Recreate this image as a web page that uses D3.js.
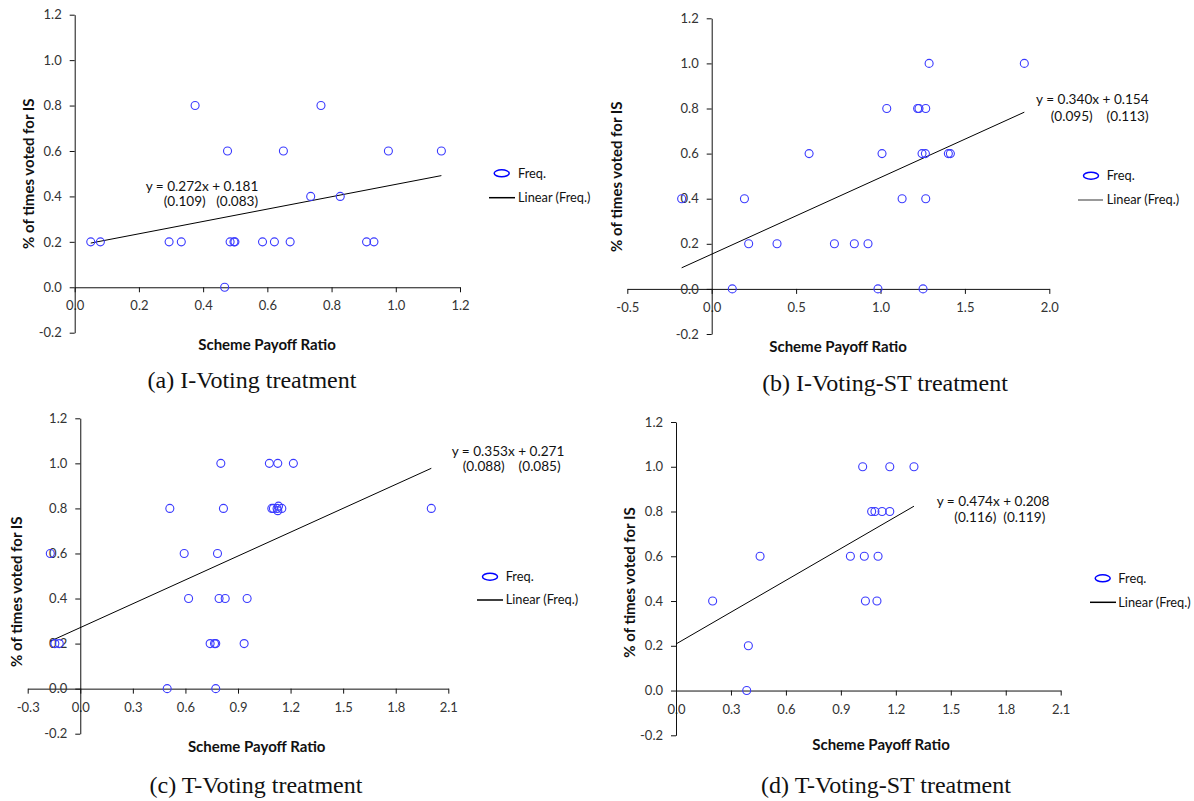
<!DOCTYPE html>
<html>
<head>
<meta charset="utf-8">
<script src="https://cdn.jsdelivr.net/npm/d3@7"></script>
<style>
  body { margin: 0; background: #fff; }
  svg text { font-family: Lato, "Open Sans", sans-serif; }
</style>
</head>
<body>
<svg id="chart" width="1194" height="801"></svg>
<script>
// ---- data ----
var aX = [0.050, 0.080, 0.294, 0.332, 0.375, 0.476, 0.467, 0.484, 0.496, 0.499, 0.585,
          0.622, 0.650, 0.671, 0.735, 0.767, 0.827, 0.909, 0.932, 0.977, 1.142];
var aY = [0.2, 0.2, 0.2, 0.2, 0.8, 0.6, 0.0, 0.2, 0.2, 0.2, 0.2,
          0.2, 0.6, 0.2, 0.4, 0.8, 0.4, 0.2, 0.2, 0.6, 0.6];

var bX = [-0.178, 0.194, 0.219, 0.387, 0.122, 0.577, 0.727, 0.845, 0.926, 0.985, 1.009, 1.037,
          1.128, 1.220, 1.228, 1.268, 1.246, 1.266, 1.268, 1.252, 1.288, 1.402, 1.414, 1.852];
var bY = [0.4, 0.4, 0.2, 0.2, 0.0, 0.6, 0.2, 0.2, 0.2, 0.0, 0.6, 0.8,
          0.4, 0.8, 0.8, 0.8, 0.6, 0.6, 0.4, 0.0, 1.0, 0.6, 0.6, 1.0];

var cX = [-0.171, -0.145, -0.120, 0.496, 0.511, 0.593, 0.618, 0.741, 0.766, 0.773, 0.773, 0.783,
          0.792, 0.802, 0.817, 0.827, 0.935, 0.952, 1.079, 1.127, 1.093, 1.102, 1.123, 1.127,
          1.131, 1.150, 1.216, 2.003];
var cY = [0.6, 0.2, 0.2, 0.0, 0.8, 0.6, 0.4, 0.2, 0.2, 0.2, 0.0, 0.6,
          0.4, 1.0, 0.8, 0.4, 0.2, 0.4, 1.0, 1.0, 0.8, 0.8, 0.8, 0.79,
          0.81, 0.8, 1.0, 0.8];

var dX = [0.200, 0.386, 0.395, 0.459, 0.952, 1.019, 1.028, 1.034, 1.068, 1.086, 1.103, 1.097,
          1.125, 1.167, 1.167, 1.299];
var dY = [0.4, 0.0, 0.2, 0.6, 0.6, 1.0, 0.6, 0.4, 0.8, 0.8, 0.6, 0.4,
          0.8, 1.0, 0.8, 1.0];

// fitted lines: slope, intercept, standard errors
var slopes     = [0.272, 0.340, 0.353, 0.474];
var intercepts = [0.181, 0.154, 0.271, 0.208];
var seSlope    = ["0.109", "0.095", "0.088", "0.116"];
var seInt      = ["0.083", "0.113", "0.085", "0.119"];
var trendFrom  = [null, null, null, 0];   // null = start at smallest x

var captions = ["(a) I-Voting treatment", "(b) I-Voting-ST treatment",
                "(c) T-Voting treatment", "(d) T-Voting-ST treatment"];

var yTicks  = [-0.2, 0.0, 0.2, 0.4, 0.6, 0.8, 1.0, 1.2];
var xTicksA = [0.0, 0.2, 0.4, 0.6, 0.8, 1.0, 1.2];
var xTicksB = [-0.5, 0.0, 0.5, 1.0, 1.5, 2.0];
var xTicksC = [-0.3, 0.0, 0.3, 0.6, 0.9, 1.2, 1.5, 1.8, 2.1];
var xTicksD = [0.0, 0.3, 0.6, 0.9, 1.2, 1.5, 1.8, 2.1];

// ---- layout ----
var panels = [
  { xs: aX, ys: aY, xt: xTicksA, xr: [74.7, 460], yr: [332.7, 14.7],
    eq: [145.7, 186, 163.7, 201.7, "   "], leg: [501.7, 173.3, 518, 489, 515, 197.7, "#000"],
    xl: [267, 345], yl: [29, 173.7], cap: [252, 388] },
  { xs: bX, ys: bY, xt: xTicksB, xr: [627.3, 1049.3], yr: [334, 18.3],
    eq: [1036, 99, 1050.7, 116, "    "], leg: [1091, 175.7, 1106.7, 1078, 1103, 200, "#777"],
    xl: [838, 347], yl: [616.7, 176.7], cap: [885, 391] },
  { xs: cX, ys: cY, xt: xTicksC, xr: [27.7, 448.3], yr: [733.7, 418.3],
    eq: [451.7, 451.7, 462.7, 466.7, "    "], leg: [490, 576.7, 505.7, 477, 503, 600, "#000"],
    xl: [256.7, 747], yl: [17, 591.7], cap: [256, 793] },
  { xs: dX, ys: dY, xt: xTicksD, xr: [676, 1060.7], yr: [735.3, 422],
    eq: [936.7, 501, 954.3, 517, "  "], leg: [1102.7, 578.3, 1118.3, 1090, 1116, 602.3, "#000"],
    xl: [881, 745], yl: [630, 582.5], cap: [886, 793] }
];

var svg = d3.select("#chart");
svg.append("rect").attr("width", 1194).attr("height", 801).attr("fill", "#fff");

var loc = d3.formatLocale({decimal: ".", thousands: ",", grouping: [3], currency: ["", ""], minus: "-"});
var f1 = loc.format(".1f");
var f3 = loc.format(".3f");

panels.forEach(function(p, i) {
  var g = svg.append("g");
  var x = d3.scaleLinear().domain([p.xt[0], p.xt[p.xt.length - 1]]).range(p.xr);
  var y = d3.scaleLinear().domain([-0.2, 1.2]).range(p.yr);

  // axes cross at zero
  var xa = g.append("g")
    .attr("transform", "translate(0," + y(0) + ")")
    .call(d3.axisBottom(x).tickValues(p.xt).tickFormat(f1).tickSize(5).tickSizeOuter(0).tickPadding(9));
  var ya = g.append("g")
    .attr("transform", "translate(" + x(0) + ",0)")
    .call(d3.axisLeft(y).tickValues(yTicks).tickFormat(f1).tickSize(5).tickSizeOuter(0).tickPadding(8));
  [xa, ya].forEach(function(a) {
    a.select(".domain").attr("stroke", "#111");
    a.selectAll(".tick line").attr("stroke", "#111");
    a.selectAll(".tick text").attr("fill", "#333").style("font-size", "13px").style("font-family", "Lato, sans-serif");
  });

  // trend line
  var x0 = trendFrom[i] === null ? d3.min(p.xs) : trendFrom[i];
  var x1 = d3.max(p.xs);
  var line = d3.line().x(function(d) { return x(d); })
    .y(function(d) { return y(slopes[i] * d + intercepts[i]); });
  g.append("path").datum([x0, x1]).attr("d", line)
    .attr("fill", "none").attr("stroke", "#000").attr("stroke-width", 1);

  // points
  g.selectAll("circle.pt").data(p.xs).enter().append("circle")
    .attr("class", "pt")
    .attr("cx", function(d) { return x(d); })
    .attr("cy", function(d, j) { return y(p.ys[j]); })
    .attr("r", 4)
    .attr("fill", "none")
    .attr("stroke", "#3a3aff")
    .attr("stroke-width", 1.1);

  // equation
  g.append("text").attr("x", p.eq[0]).attr("y", p.eq[1]).attr("dy", "0.35em")
    .style("font-size", "13.6px").attr("fill", "#111")
    .text("y = " + f3(slopes[i]) + "x + " + f3(intercepts[i]));
  g.append("text").attr("x", p.eq[2]).attr("y", p.eq[3]).attr("dy", "0.35em")
    .style("font-size", "13.6px").attr("fill", "#111").style("white-space", "pre")
    .text("(" + seSlope[i] + ")" + p.eq[4] + "(" + seInt[i] + ")");

  // legend
  var lg = p.leg;
  g.append("ellipse").attr("cx", lg[0]).attr("cy", lg[1]).attr("rx", 7.5).attr("ry", 3.5)
    .attr("fill", "none").attr("stroke", "#0000ff").attr("stroke-width", 1.5);
  g.append("text").attr("x", lg[2]).attr("y", lg[1]).attr("dy", "0.35em")
    .style("font-size", "12.8px").attr("fill", "#111").text("Freq.");
  g.append("line").attr("x1", lg[3]).attr("x2", lg[4]).attr("y1", lg[5]).attr("y2", lg[5])
    .attr("stroke", lg[6]).attr("stroke-width", 1.5);
  g.append("text").attr("x", lg[2]).attr("y", lg[5]).attr("dy", "0.35em")
    .style("font-size", "12.8px").attr("fill", "#111").text("Linear (Freq.)");

  // axis titles
  g.append("text").attr("x", p.xl[0]).attr("y", p.xl[1]).attr("dy", "0.35em")
    .attr("text-anchor", "middle").style("font-size", "15px").style("font-weight", "bold")
    .attr("fill", "#111").text("Scheme Payoff Ratio");
  g.append("text").attr("transform", "translate(" + p.yl[0] + "," + p.yl[1] + ") rotate(-90)")
    .attr("dy", "0.35em").attr("text-anchor", "middle")
    .style("font-size", "15px").style("font-weight", "bold")
    .attr("fill", "#111").text("% of times voted for IS");

  // caption
  g.append("text").attr("x", p.cap[0]).attr("y", p.cap[1]).attr("text-anchor", "middle")
    .style("font-family", "'Liberation Serif', 'Times New Roman', serif").style("font-size", "24px")
    .attr("fill", "#111").text(captions[i]);
});
</script>
</body>
</html>
